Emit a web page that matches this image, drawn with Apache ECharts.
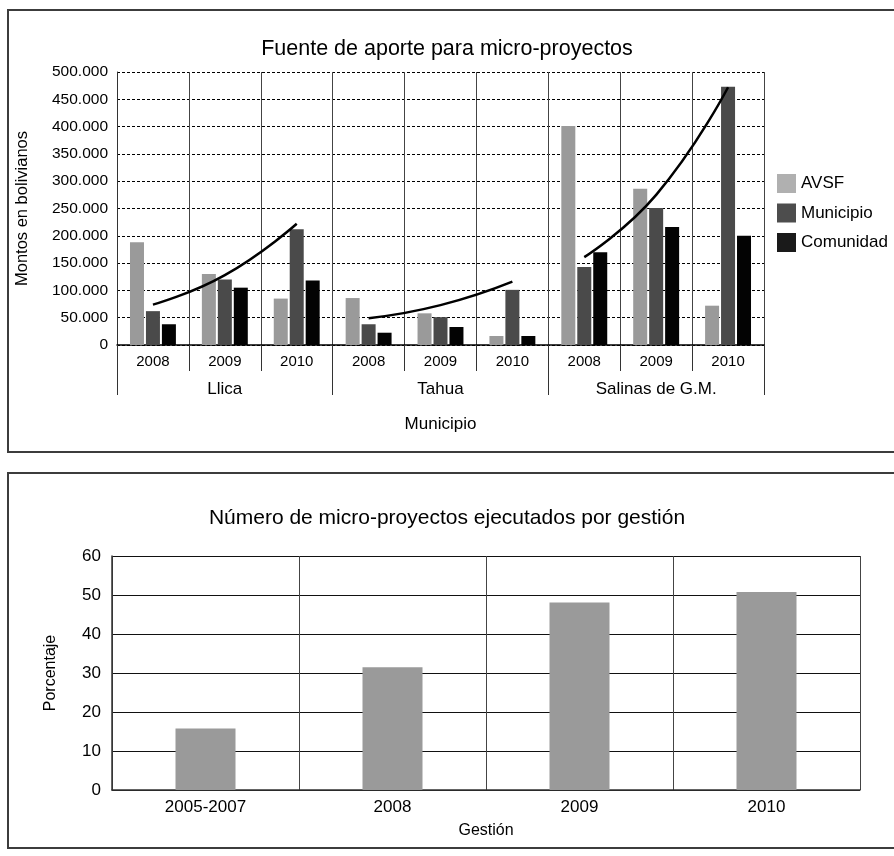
<!DOCTYPE html>
<html>
<head>
<meta charset="utf-8">
<script src="https://cdn.jsdelivr.net/npm/echarts@6/dist/echarts.min.js"></script>
<style>
  html, body { margin: 0; padding: 0; background: #fff; }
  #wrap { position: relative; width: 894px; height: 856px; overflow: hidden; }
  .frame { position: absolute; border: 2px solid #3c3c3c; box-sizing: border-box; }
  #f1 { left: 7px; top: 9px; width: 900px; height: 444px; }
  #f2 { left: 7px; top: 472px; width: 900px; height: 377px; }
  #chart { position: absolute; left: 0; top: 0; width: 894px; height: 856px; }
</style>
</head>
<body>
<div id="wrap">
  <div class="frame" id="f1"></div>
  <div class="frame" id="f2"></div>
  <div id="chart"></div>
</div>
<script>
// ---------- Data: top chart ----------
const topTitle = 'Fuente de aporte para micro-proyectos';
const years = ['2008', '2009', '2010', '2008', '2009', '2010', '2008', '2009', '2010'];
const municipios = ['Llica', 'Tahua', 'Salinas de G.M.'];
const avsf      = [188000, 130000, 85000, 86000, 58000, 16500, 401000, 286000, 72000];
const municipio = [62000, 120000, 212000, 38000, 51000, 101000, 143000, 251000, 473000];
const comunidad = [38000, 105000, 118000, 22500, 33000, 16500, 170000, 216000, 200000];
const trendLlica   = [74000, 128000, 222000];
const trendTahua   = [49000, 73000, 116000];
const trendSalinas = [161000, 275000, 472000];
const yTicksTop = ['0', '50.000', '100.000', '150.000', '200.000', '250.000',
                   '300.000', '350.000', '400.000', '450.000', '500.000'];

// ---------- Data: bottom chart ----------
const bottomTitle = 'Número de micro-proyectos ejecutados por gestión';
const gestiones = ['2005-2007', '2008', '2009', '2010'];
const porcentaje = [15.8, 31.5, 48.1, 50.8];
const yTicksBottom = ['0', '10', '20', '30', '40', '50', '60'];

const FONT = "'Liberation Sans', Arial, sans-serif";

function trendData(vals, start) {
  const d = years.map(() => null);
  vals.forEach((v, i) => { d[start + i] = v; });
  return d;
}

const chart = echarts.init(document.getElementById('chart'), null, { renderer: 'canvas' });

const trendStyle = { color: '#000', width: 2.5 };

chart.setOption({
  animation: false,
  textStyle: { fontFamily: FONT, color: '#000' },
  title: [
    { text: topTitle, left: 'center', top: 33,
      textStyle: { fontFamily: FONT, fontSize: 21.5, fontWeight: 'normal', color: '#000' } },
    { text: bottomTitle, left: 'center', top: 503,
      textStyle: { fontFamily: FONT, fontSize: 21, fontWeight: 'normal', color: '#000' } }
  ],
  legend: {
    orient: 'vertical', left: 777, top: 174, padding: 0,
    itemWidth: 19, itemHeight: 19, itemGap: 10.5,
    icon: 'rect',
    textStyle: { fontFamily: FONT, fontSize: 17, color: '#000' },
    data: [
      { name: 'AVSF', itemStyle: { color: '#b0b0b0' } },
      { name: 'Municipio', itemStyle: { color: '#4d4d4d' } },
      { name: 'Comunidad', itemStyle: { color: '#1a1a1a' } }
    ]
  },
  grid: [
    { left: 117, top: 72, width: 647, height: 273, outerBoundsMode: 'none', containLabel: false },
    { left: 112, top: 556, width: 748, height: 234, outerBoundsMode: 'none', containLabel: false }
  ],
  xAxis: [
    {
      type: 'category', gridIndex: 0, data: years, position: 'bottom',
      axisLine: { show: true, lineStyle: { color: '#000', width: 1.5 } },
      axisTick: { show: true, interval: 0, length: 26, lineStyle: { color: '#333' } },
      axisLabel: { interval: 0, margin: 9, fontSize: 15, color: '#000', fontFamily: FONT },
      splitLine: { show: true, interval: 0, lineStyle: { color: '#444', width: 1 } }
    },
    {
      type: 'category', gridIndex: 0, data: municipios, position: 'bottom',
      axisLine: { show: false },
      axisTick: { show: true, interval: 0, length: 50, lineStyle: { color: '#333' } },
      axisLabel: { interval: 0, margin: 36, fontSize: 17, color: '#000', fontFamily: FONT },
      splitLine: { show: false },
      name: 'Municipio', nameLocation: 'middle', nameGap: 71,
      nameTextStyle: { fontSize: 17, color: '#000', fontFamily: FONT }
    },
    {
      type: 'category', gridIndex: 1, data: gestiones,
      axisLine: { show: true, lineStyle: { color: '#333', width: 1.5 } },
      axisTick: { show: false },
      axisLabel: { interval: 0, margin: 9, fontSize: 17, color: '#000', fontFamily: FONT },
      splitLine: { show: true, interval: 0, lineStyle: { color: '#444', width: 1 } },
      name: 'Gestión', nameLocation: 'middle', nameGap: 33,
      nameTextStyle: { fontSize: 16, color: '#000', fontFamily: FONT }
    }
  ],
  yAxis: [
    {
      type: 'value', gridIndex: 0, min: 0, max: 500000, interval: 50000,
      axisLine: { show: true, lineStyle: { color: '#333', width: 1 } },
      axisTick: { show: false },
      axisLabel: { margin: 9, fontSize: 15.5, color: '#000', fontFamily: FONT,
                   formatter: (v, i) => yTicksTop[i] },
      splitLine: { show: true, lineStyle: { color: '#000', width: 1.2, type: [3, 2] } },
      name: 'Montos en bolivianos', nameLocation: 'middle', nameRotate: 90, nameGap: 86,
      nameTextStyle: { fontSize: 16.5, color: '#000', fontFamily: FONT }
    },
    {
      type: 'value', gridIndex: 1, min: 0, max: 60, interval: 10,
      axisLine: { show: true, lineStyle: { color: '#333', width: 1.5 } },
      axisTick: { show: false },
      axisLabel: { margin: 11, fontSize: 17, color: '#000', fontFamily: FONT,
                   formatter: (v, i) => yTicksBottom[i] },
      splitLine: { show: true, lineStyle: { color: '#111', width: 1.2 } },
      name: 'Porcentaje', nameLocation: 'middle', nameRotate: 90, nameGap: 53,
      nameTextStyle: { fontSize: 16, color: '#000', fontFamily: FONT }
    }
  ],
  series: [
    { name: 'AVSF', type: 'bar', xAxisIndex: 0, yAxisIndex: 0, data: avsf,
      barWidth: 14, barGap: '14%', itemStyle: { color: '#9a9a9a' } },
    { name: 'Municipio', type: 'bar', xAxisIndex: 0, yAxisIndex: 0, data: municipio,
      barWidth: 14, barGap: '14%', itemStyle: { color: '#4a4a4a' } },
    { name: 'Comunidad', type: 'bar', xAxisIndex: 0, yAxisIndex: 0, data: comunidad,
      barWidth: 14, barGap: '14%', itemStyle: { color: '#030303' } },
    { name: 'Tendencia Llica', type: 'line', xAxisIndex: 0, yAxisIndex: 0, z: 5,
      data: trendData(trendLlica, 0), smooth: true, showSymbol: false, symbol: 'none',
      lineStyle: trendStyle, itemStyle: { color: '#000' } },
    { name: 'Tendencia Tahua', type: 'line', xAxisIndex: 0, yAxisIndex: 0, z: 5,
      data: trendData(trendTahua, 3), smooth: true, showSymbol: false, symbol: 'none',
      lineStyle: trendStyle, itemStyle: { color: '#000' } },
    { name: 'Tendencia Salinas', type: 'line', xAxisIndex: 0, yAxisIndex: 0, z: 5,
      data: trendData(trendSalinas, 6), smooth: true, showSymbol: false, symbol: 'none',
      lineStyle: trendStyle, itemStyle: { color: '#000' } },
    { name: 'Porcentaje', type: 'bar', xAxisIndex: 2, yAxisIndex: 1, data: porcentaje,
      barWidth: 60, itemStyle: { color: '#9a9a9a' } }
  ]
});
</script>
</body>
</html>
